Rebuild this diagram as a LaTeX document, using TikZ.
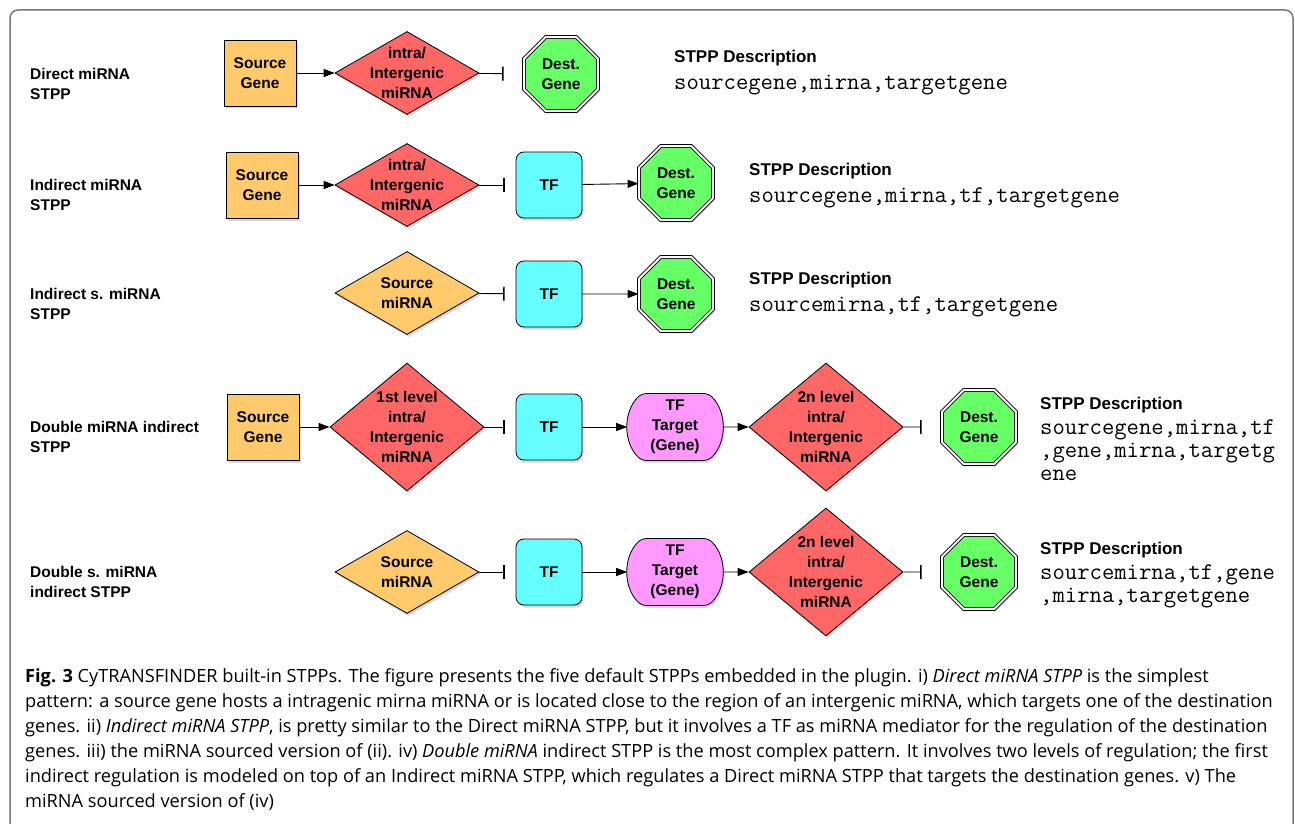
\documentclass[tikz,border=0pt]{standalone}
\usepackage{fontspec}
\usetikzlibrary{shapes,arrows.meta,shadows,positioning}
\newfontfamily\lblfont{Liberation Sans}
\newfontfamily\capfont{Open Sans}
\newcommand{\boxfont}{\lblfont\bfseries\fontsize{15.5}{20}\selectfont}
\definecolor{srcorange}{RGB}{254,202,108}
\definecolor{mirred}{RGB}{255,102,102}
\definecolor{tfcyan}{RGB}{102,255,255}
\definecolor{destgreen}{RGB}{102,255,102}
\definecolor{tgtpink}{RGB}{255,153,255}
\definecolor{framegray}{RGB}{120,120,120}

\begin{document}
\begin{tikzpicture}[x=1pt, y=-1pt,
    shade/.style={drop shadow={shadow xshift=1.5pt, shadow yshift=-2.5pt, opacity=0.3}},
    gene/.style={rectangle, draw=black, line width=0.8pt, fill=srcorange, minimum width=72pt, minimum height=66pt, inner sep=0pt, align=center, font=\boxfont, shade},
    mirna/.style={diamond, draw=black, line width=0.8pt, fill=mirred, minimum width=144pt, minimum height=83pt, inner sep=0pt, shade},
    srcmir/.style={mirna, fill=srcorange},
    bigmir/.style={mirna, minimum width=154pt, minimum height=128pt},
    tf/.style={rectangle, rounded corners=8pt, draw=black, line width=0.8pt, fill=tfcyan, minimum width=66pt, minimum height=66pt, inner sep=0pt, font=\boxfont, shade},
    tftarget/.style={rounded rectangle, rounded rectangle arc length=90, rounded corners=5pt, draw=black, line width=0.8pt, fill=tgtpink, minimum width=84pt, minimum height=67pt, inner sep=0pt, align=center, font=\boxfont, shade},
    dest/.style={regular polygon, regular polygon sides=8, draw=black, double=white, double distance=2pt, line width=0.9pt, fill=destgreen, minimum size=80pt, inner sep=0pt, align=center, font=\boxfont, shade},
    intxt/.style={align=center, font=\boxfont},
    act/.style={-{Triangle[length=11pt, width=8pt]}, line width=0.9pt},
    inh/.style={-{Bar[width=14pt, line width=1.4pt]}, line width=0.9pt},
    rowlbl/.style={anchor=west, align=left, inner sep=0pt, font=\boxfont},
    dtitle/.style={anchor=west, inner sep=0pt, font=\lblfont\bfseries\fontsize{17}{20}\selectfont},
    dcode/.style={anchor=north west, align=left, inner sep=0pt, font=\ttfamily\fontsize{24}{23}\selectfont}
]

% page and frame
\clip (0,0) rectangle (1295,824);
\draw[framegray, line width=1.5pt, rounded corners=8pt] (10,10) rectangle (1293,850);

% row labels
\foreach \txt/\y [count=\r] in {{Direct miRNA\\STPP}/84, {Indirect miRNA\\STPP}/195, {Indirect s. miRNA\\STPP}/304, {Double miRNA indirect\\STPP}/437, {Double s. miRNA\\indirect STPP}/582} {
    \node[rowlbl] (row\r) at (30,\y) {\txt};
}

% === Row 1: Direct miRNA STPP ===
\node[gene] (g1) at (260,73) {Source\\Gene};
\node[mirna, label={[intxt]center:{intra/\\Intergenic\\miRNA}}] (m1) at (407,73) {};
\node[dest] (d1) at (561,74) {Dest.\\Gene};
\draw[act] (g1) -- (m1);
\draw[inh, shorten >=20pt] (m1) -- (d1);
\node[dtitle] (dt1) at (674,58) {STPP Description};
\node[dcode] (dc1) at (674,75) {sourcegene,mirna,targetgene};

% === Row 2: Indirect miRNA STPP ===
\node[gene] (g2) at (262,185) {Source\\Gene};
\node[mirna, label={[intxt]center:{intra/\\Intergenic\\miRNA}}] (m2) at (407,185) {};
\node[tf] (t2) at (549,185) {TF};
\node[dest] (d2) at (676,183) {Dest.\\Gene};
\draw[act] (g2) -- (m2);
\draw[inh, shorten >=11pt] (m2) -- (t2);
\draw[act] (t2) -- (d2);
\node[dtitle] (dt2) at (749,171) {STPP Description};
\node[dcode] (dc2) at (749,187.5) {sourcegene,mirna,tf,targetgene};

% === Row 3: Indirect s. miRNA STPP ===
\node[srcmir, label={[intxt]center:{Source\\miRNA}}] (s3) at (407,293) {};
\node[tf] (t3) at (549,294) {TF};
\node[dest] (d3) at (676,294) {Dest.\\Gene};
\draw[inh, shorten >=11pt] (s3) -- (t3);
\draw[act] (t3) -- (d3);
\node[dtitle] (dt3) at (749,280) {STPP Description};
\node[dcode] (dc3) at (749,296.5) {sourcemirna,tf,targetgene};

% === Row 4: Double miRNA indirect STPP ===
\node[gene] (g4) at (263,427) {Source\\Gene};
\node[bigmir, label={[intxt]center:{1st level\\intra/\\Intergenic\\miRNA}}] (m4a) at (407,427) {};
\node[tf] (t4) at (549,427) {TF};
\node[tftarget] (p4) at (675,427) {TF\\Target\\(Gene)};
\node[bigmir, label={[intxt]center:{2n level\\intra/\\Intergenic\\miRNA}}] (m4b) at (826,427) {};
\node[dest] (d4) at (979,427) {Dest.\\Gene};
\draw[act] (g4) -- (m4a);
\draw[inh, shorten >=11pt] (m4a) -- (t4);
\draw[act] (t4) -- (p4);
\draw[act] (p4) -- (m4b);
\draw[inh, shorten >=20pt] (m4b) -- (d4);
\node[dtitle] (dt4) at (1040,405) {STPP Description};
\node[dcode] (dc4) at (1040,419.5) {sourcegene,mirna,tf\\,gene,mirna,targetg\\ene};

% === Row 5: Double s. miRNA indirect STPP ===
\node[srcmir, label={[intxt]center:{Source\\miRNA}}] (s5) at (407,572) {};
\node[tf] (t5) at (549,572) {TF};
\node[tftarget] (p5) at (675,572) {TF\\Target\\(Gene)};
\node[bigmir, label={[intxt]center:{2n level\\intra/\\Intergenic\\miRNA}}] (m5) at (826,572) {};
\node[dest] (d5) at (979,572) {Dest.\\Gene};
\draw[inh, shorten >=11pt] (s5) -- (t5);
\draw[act] (t5) -- (p5);
\draw[act] (p5) -- (m5);
\draw[inh, shorten >=20pt] (m5) -- (d5);
\node[dtitle] (dt5) at (1040,550) {STPP Description};
\node[dcode] (dc5) at (1040,564.5) {sourcemirna,tf,gene\\,mirna,targetgene};

% caption
\node[anchor=north west, align=left, inner sep=0pt, font=\capfont\fontsize{18.2}{25}\selectfont] (caption) at (25,668) {%
\textbf{Fig. 3} CyTRANSFINDER built-in STPPs. The figure presents the five default STPPs embedded in the plugin. i) \textit{Direct miRNA STPP} is the simplest\\
pattern: a source gene hosts a intragenic mirna miRNA or is located close to the region of an intergenic miRNA, which targets one of the destination\\
genes. ii) \textit{Indirect miRNA STPP}, is pretty similar to the Direct miRNA STPP, but it involves a TF as miRNA mediator for the regulation of the destination\\
genes. iii) the miRNA sourced version of (ii). iv) \textit{Double miRNA} indirect STPP is the most complex pattern. It involves two levels of regulation; the first\\
indirect regulation is modeled on top of an Indirect miRNA STPP, which regulates a Direct miRNA STPP that targets the destination genes. v) The\\
miRNA sourced version of (iv)};

\end{tikzpicture}
\end{document}
